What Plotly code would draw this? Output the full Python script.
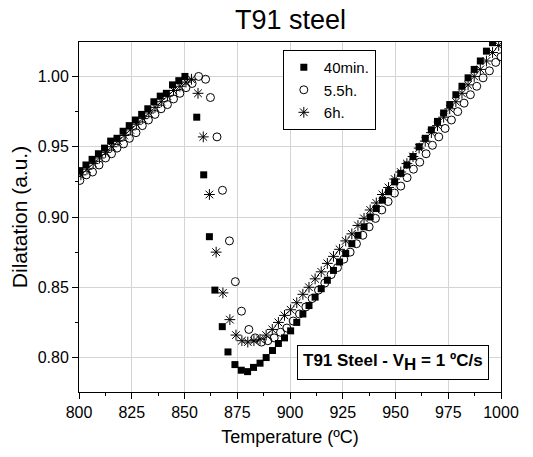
import plotly.graph_objects as go

# Dilatation curves of T91 steel heated at 1 ºC/s after different holding times

# 40 min holding
temp_40min = [800.4, 803.3, 806.2, 809.2, 812.1, 815.0, 818.0, 820.9, 823.8, 826.7,
              829.7, 832.6, 835.5, 838.5, 841.4, 844.3, 847.3, 850.2,
              855.8, 859.1, 861.8, 864.4, 867.9, 870.6, 873.9, 876.9, 879.9, 882.7,
              885.8, 888.7, 891.7, 894.5, 897.4, 900.3, 903.2, 906.1, 909.0, 911.9,
              914.8, 917.7, 920.6, 923.5, 926.4, 929.3, 932.2, 935.1, 938.0, 940.9,
              943.8, 946.7, 949.6, 952.5, 955.4, 958.3, 961.2, 964.1, 967.0, 969.9,
              972.8, 975.7, 978.6, 981.5, 984.4, 987.3, 990.2, 993.1, 996.0, 998.9]
dil_40min = [0.933, 0.937, 0.941, 0.945, 0.949, 0.954, 0.956, 0.961, 0.965, 0.969,
             0.973, 0.977, 0.982, 0.986, 0.988, 0.994, 0.997, 1.000,
             0.971, 0.930, 0.886, 0.848, 0.822, 0.804, 0.795, 0.791, 0.790, 0.793,
             0.796, 0.800, 0.805, 0.810, 0.814, 0.819, 0.825, 0.831, 0.837, 0.843,
             0.849, 0.855, 0.862, 0.868, 0.874, 0.881, 0.887, 0.893, 0.900, 0.906,
             0.912, 0.918, 0.925, 0.931, 0.937, 0.943, 0.950, 0.956, 0.962, 0.968,
             0.974, 0.980, 0.987, 0.993, 0.999, 1.005, 1.011, 1.018, 1.024, 1.030]

# 5.5 h holding
temp_5h5 = [800.4, 803.5, 806.4, 809.5, 812.6, 815.4, 818.0, 821.1, 823.9, 827.0,
            830.0, 832.9, 836.0, 838.9, 841.9, 844.8, 847.8, 850.7, 853.6, 856.7,
            860.0, 862.3, 865.4, 868.0, 871.3, 874.1, 877.0, 880.5, 883.5, 886.5,
            889.5, 892.5, 895.5, 898.5, 901.5, 904.5, 907.5, 910.5, 913.5, 916.5,
            919.5, 922.5, 925.5, 928.5, 931.5, 934.5, 937.5, 940.5, 943.5, 946.5,
            949.5, 952.5, 955.5, 958.5, 961.5, 964.5, 967.5, 970.5, 973.5, 976.5,
            979.5, 982.5, 985.5, 988.5, 991.5, 994.5, 997.5, 1000.0]
dil_5h5 = [0.926, 0.930, 0.932, 0.937, 0.942, 0.945, 0.949, 0.952, 0.956, 0.960,
           0.965, 0.969, 0.973, 0.977, 0.980, 0.984, 0.988, 0.992, 0.995, 1.000,
           0.998, 0.985, 0.957, 0.919, 0.883, 0.854, 0.833, 0.820, 0.814, 0.811,
           0.812, 0.814, 0.818, 0.821, 0.826, 0.831, 0.836, 0.842, 0.848, 0.853,
           0.859, 0.864, 0.870, 0.875, 0.881, 0.887, 0.893, 0.899, 0.905, 0.911,
           0.917, 0.922, 0.928, 0.934, 0.939, 0.945, 0.951, 0.957, 0.963, 0.969,
           0.975, 0.981, 0.987, 0.993, 0.999, 1.004, 1.010, 1.014]

# 6 h holding
temp_6h = [800.9, 803.8, 806.7, 809.7, 812.6, 815.5, 818.5, 821.4, 824.3, 827.2,
           830.2, 833.1, 836.0, 839.0, 841.9, 844.8, 847.8, 850.7, 853.3,
           856.4, 858.9, 861.8, 865.0, 868.2, 871.5, 874.4, 877.2, 880.0, 882.9,
           885.8, 888.7, 891.6, 894.5, 897.4, 900.3, 903.2, 906.1, 909.0, 911.9,
           914.8, 917.7, 920.6, 923.5, 926.4, 929.3, 932.2, 935.1, 938.0, 940.9,
           943.8, 946.7, 949.6, 952.5, 955.4, 958.3, 961.2, 964.1, 967.0, 969.9,
           972.8, 975.7, 978.6, 981.5, 984.4, 987.3, 990.2, 993.1, 996.0, 998.9]
dil_6h = [0.930, 0.934, 0.938, 0.942, 0.946, 0.950, 0.954, 0.958, 0.962, 0.966,
          0.970, 0.974, 0.978, 0.982, 0.986, 0.990, 0.993, 0.996, 0.998,
          0.988, 0.957, 0.916, 0.875, 0.846, 0.827, 0.816, 0.812, 0.811, 0.812,
          0.813, 0.816, 0.820, 0.825, 0.830, 0.834, 0.839, 0.845, 0.850, 0.856,
          0.861, 0.867, 0.872, 0.877, 0.883, 0.888, 0.894, 0.899, 0.905, 0.910,
          0.916, 0.921, 0.927, 0.932, 0.938, 0.943, 0.949, 0.954, 0.960, 0.965,
          0.971, 0.977, 0.982, 0.988, 0.994, 1.000, 1.005, 1.011, 1.017, 1.022]

x_ticks = [800, 825, 850, 875, 900, 925, 950, 975, 1000]
y_ticks = [0.80, 0.85, 0.90, 0.95, 1.00]

FONT = "Liberation Sans, Arial, sans-serif"

fig = go.Figure()
fig.add_trace(go.Scatter(
    x=temp_40min, y=dil_40min, mode="markers", name="40min.",
    marker=dict(symbol="square", size=7, color="black", line=dict(width=0)),
))
fig.add_trace(go.Scatter(
    x=temp_5h5, y=dil_5h5, mode="markers", name="5.5h.",
    marker=dict(symbol="circle-open", size=8, color="black", line=dict(width=1)),
))
fig.add_trace(go.Scatter(
    x=temp_6h, y=dil_6h, mode="markers", name="6h.",
    marker=dict(symbol="asterisk-open", size=9, color="black", line=dict(width=1, color="black")),
))

axis_common = dict(
    showline=True, linecolor="black", linewidth=1, mirror=True,
    ticks="outside", ticklen=6, tickwidth=1, tickcolor="black",
    showgrid=True, gridcolor="#d4d4d4", gridwidth=1, zeroline=False,
    tickfont=dict(family=FONT, size=16, color="black"),
)

fig.update_xaxes(
    range=[800, 1000], tickvals=x_ticks,
    title=dict(text="Temperature (ºC)", font=dict(family=FONT, size=18, color="black"), standoff=10),
    minor=dict(ticks="outside", ticklen=3, tickcolor="black", dtick=12.5, tick0=800, showgrid=False),
    **axis_common,
)
fig.update_yaxes(
    range=[0.7755, 1.0245], tickvals=y_ticks, tickformat=".2f",
    title=dict(text="Dilatation (a.u.)", font=dict(family=FONT, size=21, color="black"), standoff=4),
    minor=dict(ticks="outside", ticklen=3, tickcolor="black", dtick=0.025, tick0=0.8, showgrid=False),
    **axis_common,
)

fig.add_annotation(
    x=0.745, y=0.084, xref="paper", yref="paper", xanchor="center", yanchor="middle",
    text='<b>T91 Steel - V<sub><span style="font-size:17px">H</span></sub> = 1 ºC/s</b>',
    showarrow=False, font=dict(family=FONT, size=17, color="black"),
    bgcolor="white", bordercolor="black", borderwidth=1, borderpad=5,
)

fig.update_layout(
    width=533, height=457,
    margin=dict(l=79, r=32, t=42, b=65),
    paper_bgcolor="white", plot_bgcolor="white",
    title=dict(text="T91 steel", x=0.545, xanchor="center", y=0.957, yanchor="middle",
               font=dict(family=FONT, size=27, color="black")),
    font=dict(family=FONT, color="black"),
    legend=dict(
        x=0.483, y=0.977, xanchor="left", yanchor="top",
        bgcolor="white", bordercolor="black", borderwidth=1,
        font=dict(family=FONT, size=15, color="black"),
        itemwidth=30, tracegroupgap=0,
    ),
    showlegend=True,
)

fig.write_html("out.html")
